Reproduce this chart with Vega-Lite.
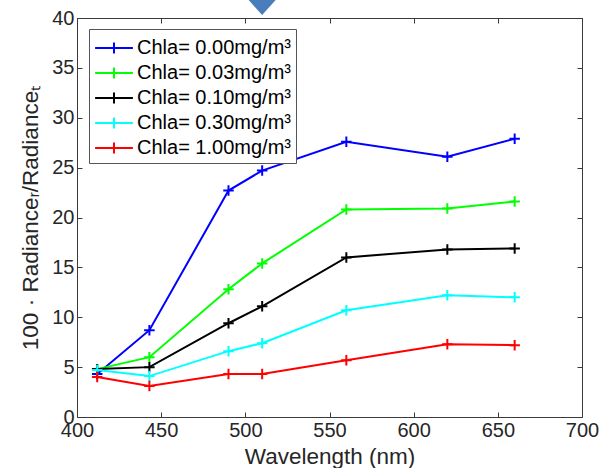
{
  "$schema": "https://vega.github.io/schema/vega-lite/v6.json",
  "width": 505,
  "height": 399,
  "autosize": "none",
  "padding": {"left": 77, "top": 18, "right": 19, "bottom": 51},
  "background": "white",
  "config": {
    "font": "Liberation Sans",
    "view": {"stroke": "#3a3a3a", "strokeWidth": 1},
    "axis": {
      "domain": false,
      "grid": false,
      "tickColor": "#3a3a3a",
      "tickSize": -5,
      "labelFontSize": 20,
      "labelColor": "#262626",
      "labelFont": "Liberation Sans",
      "titleFont": "Liberation Sans",
      "titleFontSize": 22.5,
      "titleFontWeight": "normal",
      "titleColor": "#262626",
      "labelFlush": false,
      "labelOverlap": false
    }
  },
  "data": {
    "values": [
      {"wl": 412, "v": 4.3, "c": "Chla= 0.00mg/m³"},
      {"wl": 443, "v": 8.7, "c": "Chla= 0.00mg/m³"},
      {"wl": 490, "v": 22.7, "c": "Chla= 0.00mg/m³"},
      {"wl": 510, "v": 24.7, "c": "Chla= 0.00mg/m³"},
      {"wl": 560, "v": 27.6, "c": "Chla= 0.00mg/m³"},
      {"wl": 620, "v": 26.1, "c": "Chla= 0.00mg/m³"},
      {"wl": 660, "v": 27.9, "c": "Chla= 0.00mg/m³"},
      {"wl": 412, "v": 4.8, "c": "Chla= 0.03mg/m³"},
      {"wl": 443, "v": 6.0, "c": "Chla= 0.03mg/m³"},
      {"wl": 490, "v": 12.8, "c": "Chla= 0.03mg/m³"},
      {"wl": 510, "v": 15.4, "c": "Chla= 0.03mg/m³"},
      {"wl": 560, "v": 20.8, "c": "Chla= 0.03mg/m³"},
      {"wl": 620, "v": 20.9, "c": "Chla= 0.03mg/m³"},
      {"wl": 660, "v": 21.6, "c": "Chla= 0.03mg/m³"},
      {"wl": 412, "v": 4.8, "c": "Chla= 0.10mg/m³"},
      {"wl": 443, "v": 5.0, "c": "Chla= 0.10mg/m³"},
      {"wl": 490, "v": 9.4, "c": "Chla= 0.10mg/m³"},
      {"wl": 510, "v": 11.1, "c": "Chla= 0.10mg/m³"},
      {"wl": 560, "v": 16.0, "c": "Chla= 0.10mg/m³"},
      {"wl": 620, "v": 16.8, "c": "Chla= 0.10mg/m³"},
      {"wl": 660, "v": 16.9, "c": "Chla= 0.10mg/m³"},
      {"wl": 412, "v": 4.7, "c": "Chla= 0.30mg/m³"},
      {"wl": 443, "v": 4.1, "c": "Chla= 0.30mg/m³"},
      {"wl": 490, "v": 6.6, "c": "Chla= 0.30mg/m³"},
      {"wl": 510, "v": 7.4, "c": "Chla= 0.30mg/m³"},
      {"wl": 560, "v": 10.7, "c": "Chla= 0.30mg/m³"},
      {"wl": 620, "v": 12.2, "c": "Chla= 0.30mg/m³"},
      {"wl": 660, "v": 12.0, "c": "Chla= 0.30mg/m³"},
      {"wl": 412, "v": 4.0, "c": "Chla= 1.00mg/m³"},
      {"wl": 443, "v": 3.1, "c": "Chla= 1.00mg/m³"},
      {"wl": 490, "v": 4.3, "c": "Chla= 1.00mg/m³"},
      {"wl": 510, "v": 4.3, "c": "Chla= 1.00mg/m³"},
      {"wl": 560, "v": 5.7, "c": "Chla= 1.00mg/m³"},
      {"wl": 620, "v": 7.3, "c": "Chla= 1.00mg/m³"},
      {"wl": 660, "v": 7.2, "c": "Chla= 1.00mg/m³"}
    ]
  },
  "resolve": {"axis": {"x": "independent", "y": "independent"}},
  "layer": [
    {
      "mark": {"type": "line", "strokeWidth": 2},
      "encoding": {
        "x": {"field": "wl", "type": "quantitative", "scale": {"domain": [400, 700], "nice": false},
              "axis": {"values": [400, 450, 500, 550, 600, 650, 700], "title": "Wavelength (nm)", "labelPadding": 8, "titlePadding": 5}},
        "y": {"field": "v", "type": "quantitative", "scale": {"domain": [0, 40], "nice": false},
              "axis": {"values": [0, 5, 10, 15, 20, 25, 30, 35, 40], "title": "100 · Radianceᵣ/Radianceₜ", "labelPadding": 8, "titlePadding": 9}},
        "color": {"field": "c", "type": "nominal",
          "scale": {"domain": ["Chla= 0.00mg/m³", "Chla= 0.03mg/m³", "Chla= 0.10mg/m³", "Chla= 0.30mg/m³", "Chla= 1.00mg/m³"],
                    "range": ["#0000ff", "#00ff00", "#000000", "#00ffff", "#ff0000"]},
          "legend": {"orient": "none", "legendX": 12, "legendY": 11, "title": null,
                     "strokeColor": "#555555", "fillColor": "white", "padding": 4.5,
                     "labelFontSize": 20, "labelColor": "#000000", "labelLimit": 400,
                     "symbolType": "M-1.4,0H1.4M0,-0.4V0.4", "symbolSize": 729, "symbolStrokeWidth": 2,
                     "symbolOffset": 6, "labelOffset": 8.5, "rowPadding": 0}}
      }
    },
    {
      "mark": {"type": "point", "shape": "M-1,0H1M0,-1V1", "filled": false, "strokeWidth": 2, "size": 110, "opacity": 1},
      "encoding": {
        "x": {"field": "wl", "type": "quantitative", "axis": null},
        "y": {"field": "v", "type": "quantitative", "axis": null},
        "color": {"field": "c", "type": "nominal"}
      }
    },
    {
      "mark": {"type": "point", "opacity": 0},
      "encoding": {
        "x": {"field": "wl", "type": "quantitative", "axis": {"orient": "top", "values": [400, 450, 500, 550, 600, 650, 700], "labels": false, "title": null}},
        "y": {"field": "v", "type": "quantitative", "axis": {"orient": "right", "values": [0, 5, 10, 15, 20, 25, 30, 35, 40], "labels": false, "title": null}}
      }
    },
    {
      "data": {"values": [{"wl": 510, "v": 41.05}]},
      "mark": {"type": "point", "shape": "M-1.8,-1H1.8L0,1Z", "filled": true, "size": 225, "color": "#4a7dbb", "opacity": 1},
      "encoding": {
        "x": {"field": "wl", "type": "quantitative", "axis": null},
        "y": {"field": "v", "type": "quantitative", "axis": null}
      }
    }
  ]
}
